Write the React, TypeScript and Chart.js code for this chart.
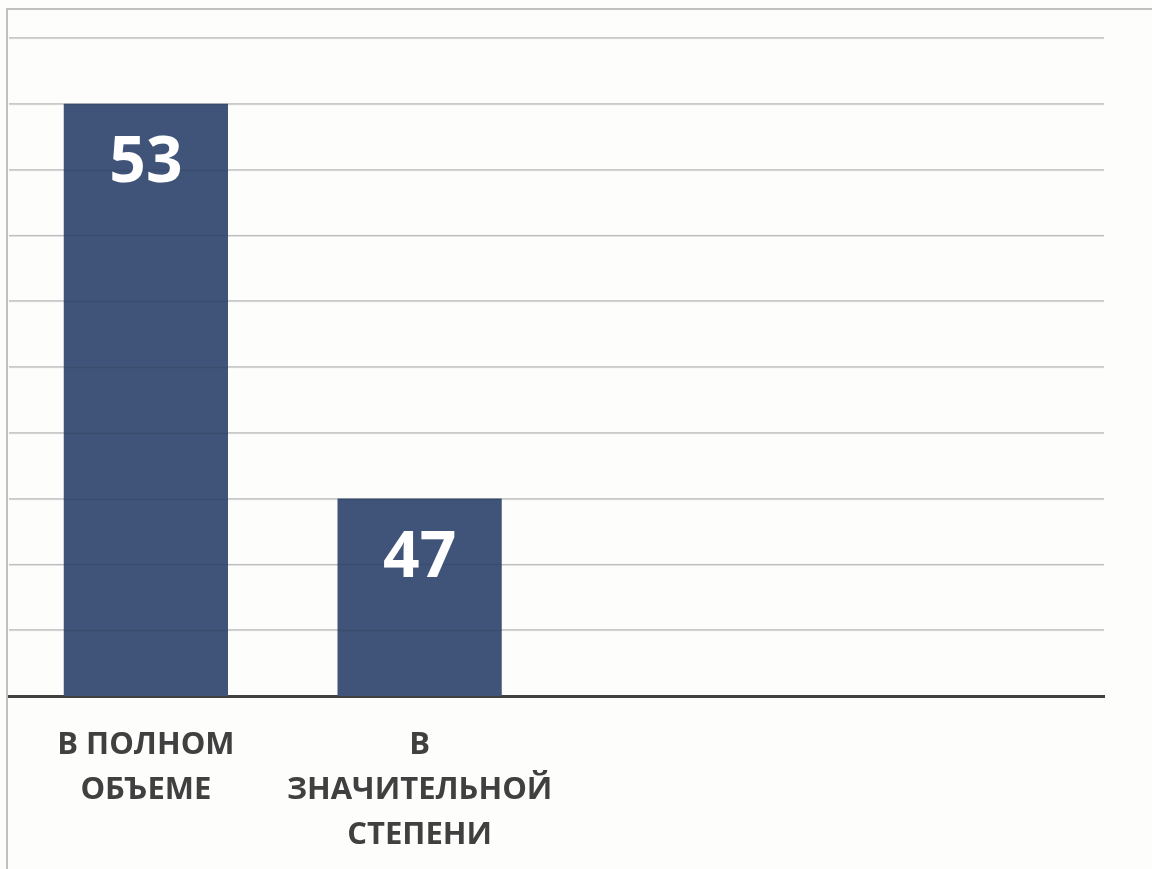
import React, { useEffect, useRef } from "react";
import { Chart, registerables } from "chart.js";

Chart.register(...registerables);

const categories: (string | string[])[] = [
  ["В ПОЛНОМ", "ОБЪЕМЕ"],
  ["В", "ЗНАЧИТЕЛЬНОЙ", "СТЕПЕНИ"],
  "",
  "",
];
const values: (number | null)[] = [53, 47, null, null];
const yMin = 44;
const yMax = 54;
const yStep = 1;

const valueLabelPlugin = {
  id: "valueLabels",
  afterDatasetsDraw(chart: any) {
    const ctx = chart.ctx;
    const area = chart.chartArea;
    const yScale = chart.scales.y;
    ctx.save();
    // faint grid lines visible across the bars
    ctx.strokeStyle = "rgba(0,0,0,0.08)";
    ctx.lineWidth = 1.5;
    yScale.ticks.forEach((t: any) => {
      const py = Math.round(yScale.getPixelForValue(t.value)) + 0.5;
      if (py >= area.bottom - 2) return;
      ctx.beginPath();
      ctx.moveTo(area.left, py);
      ctx.lineTo(area.right, py);
      ctx.stroke();
    });
    const meta = chart.getDatasetMeta(0);
    ctx.fillStyle = "#ffffff";
    ctx.font = "bold 64px 'Open Sans'";
    ctx.textAlign = "center";
    ctx.textBaseline = "middle";
    meta.data.forEach((bar: any, i: number) => {
      const v = values[i];
      if (v === null || v === undefined) return;
      ctx.fillText(String(v), bar.x, bar.y + 60);
    });
    ctx.restore();
  },
};

export default function App() {
  const canvasRef = useRef<HTMLCanvasElement | null>(null);

  useEffect(() => {
    document.body.style.margin = "0";
    document.body.style.background = "#fdfdfc";
    const canvas = canvasRef.current;
    if (!canvas) return;
    const chart = new Chart(canvas, {
      type: "bar",
      data: {
        labels: categories,
        datasets: [
          {
            data: values,
            backgroundColor: "#405479",
            borderWidth: 0,
            barPercentage: 0.6,
            categoryPercentage: 1,
          },
        ],
      },
      options: {
        animation: false,
        responsive: false,
        devicePixelRatio: 1,
        layout: { padding: { left: 9, right: 48, top: 38, bottom: 0 } },
        plugins: {
          legend: { display: false },
          tooltip: { enabled: false },
        },
        scales: {
          x: {
            grid: { display: false },
            border: { display: true, color: "#404040", width: 3 },
            ticks: {
              color: "#404040",
              font: { family: "'Open Sans'", weight: "bold", size: 31, lineHeight: 1.45 },
              padding: 19,
              maxRotation: 0,
              autoSkip: false,
            },
            afterFit(scale: any) {
              scale.height = 173;
            },
          },
          y: {
            min: yMin,
            max: yMax,
            ticks: { display: false, stepSize: yStep },
            grid: { color: "#cfcfcf", lineWidth: 1.5, drawTicks: false },
            border: { display: false },
            afterFit(scale: any) {
              scale.width = 0;
            },
          },
        },
      },
      plugins: [valueLabelPlugin],
    });
    return () => chart.destroy();
  }, []);

  return (
    <div style={{ position: "relative", width: 1152, height: 869, background: "#fdfdfc", overflow: "hidden" }}>
      <div
        style={{
          position: "absolute",
          left: 6,
          top: 8,
          width: 1146,
          height: 861,
          borderLeft: "2px solid #c0c0c0",
          borderTop: "2px solid #c0c0c0",
          boxSizing: "border-box",
        }}
      />
      <canvas ref={canvasRef} width={1152} height={869} style={{ position: "absolute", left: 0, top: 0 }} />
    </div>
  );
}
